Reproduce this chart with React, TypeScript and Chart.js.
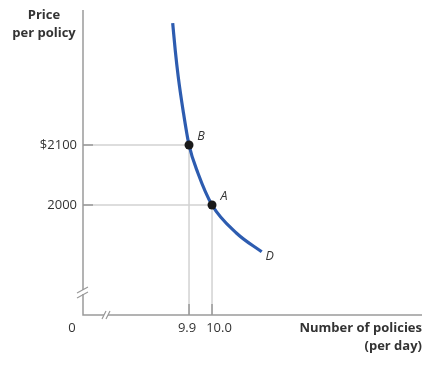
import React, { useEffect, useRef } from "react";
import { Chart, registerables } from "chart.js";

Chart.register(...registerables);

// ---- data ----
const demandQuantity = [9.829, 9.840, 9.853, 9.874, 9.9, 9.939, 10.0, 10.107, 10.216];
const demandPrice = [2303, 2258, 2214, 2158, 2100, 2053, 2000, 1953, 1922];
const pointNames = ["B", "A"];
const pointQuantity = [9.9, 10.0];
const pointPrice = [2100, 2000];
const curveName = "D";
const xTickValues = [9.9, 10.0];
const xTickLabels = ["9.9", "10.0"];
const yTickValues = [2100, 2000];
const yTickLabels = ["$2100", "2000"];
const originLabel = "0";
const xAxisTitle = ["Number of policies", "(per day)"];
const yAxisTitle = ["Price", "per policy"];
const xMin = 9.439;
const xMax = 10.913;
const yMin = 1816.7;
const yMax = 2325;

const TEXT = "#333333";
const AXIS = "#9a9a9a";
const GUIDE = "#d2d2d2";
const BLUE = "#2d5cb0";
const FONT = "'Open Sans', 'DejaVu Sans', sans-serif";

const decorPlugin = {
  id: "decor",
  beforeDatasetsDraw(chart: any) {
    const { ctx, chartArea, scales } = chart;
    const xs = scales.x;
    const ys = scales.y;
    const left = chartArea.left;
    const bottom = chartArea.bottom;
    ctx.save();
    // guide lines from axes to the points
    pointQuantity.forEach((q, i) => {
      const px = xs.getPixelForValue(q);
      const py = ys.getPixelForValue(pointPrice[i]);
      ctx.lineWidth = 1.5;
      ctx.strokeStyle = GUIDE;
      ctx.beginPath();
      ctx.moveTo(left, py);
      ctx.lineTo(px, py);
      ctx.moveTo(px, bottom);
      ctx.lineTo(px, py);
      ctx.stroke();
      ctx.strokeStyle = AXIS;
      ctx.beginPath();
      ctx.moveTo(left, py);
      ctx.lineTo(left + 10, py);
      ctx.moveTo(px, bottom);
      ctx.lineTo(px, bottom - 11);
      ctx.stroke();
    });
    // axes
    ctx.strokeStyle = AXIS;
    ctx.lineWidth = 1.5;
    ctx.beginPath();
    ctx.moveTo(left, chartArea.top);
    ctx.lineTo(left, bottom);
    ctx.lineTo(chartArea.right, bottom);
    ctx.stroke();
    // axis breaks
    const by = bottom - 23;
    ctx.fillStyle = "#ffffff";
    ctx.fillRect(left - 3, by - 2, 6, 4);
    ctx.lineWidth = 1.2;
    ctx.beginPath();
    ctx.moveTo(left - 6, by + 1);
    ctx.lineTo(left + 5, by - 5);
    ctx.moveTo(left - 6, by + 6);
    ctx.lineTo(left + 5, by);
    ctx.stroke();
    const bx = left + 23;
    ctx.fillRect(bx - 2, bottom - 3, 4, 6);
    ctx.beginPath();
    ctx.moveTo(bx - 4, bottom + 4);
    ctx.lineTo(bx, bottom - 4);
    ctx.moveTo(bx, bottom + 4);
    ctx.lineTo(bx + 4, bottom - 4);
    ctx.stroke();

    // tick labels
    ctx.fillStyle = TEXT;
    ctx.font = `13px ${FONT}`;
    ctx.textBaseline = "middle";
    ctx.textAlign = "right";
    yTickValues.forEach((v, i) => {
      ctx.fillText(yTickLabels[i], left - 6, ys.getPixelForValue(v));
    });
    ctx.textAlign = "center";
    const xOff = [-2, 7];
    xTickValues.forEach((v, i) => {
      ctx.fillText(xTickLabels[i], xs.getPixelForValue(v) + xOff[i], bottom + 13);
    });
    ctx.fillText(originLabel, left - 11, bottom + 13);

    // axis titles
    ctx.font = `bold 13px ${FONT}`;
    ctx.textAlign = "right";
    ctx.fillText(xAxisTitle[0], chartArea.right, bottom + 13);
    ctx.fillText(xAxisTitle[1], chartArea.right, bottom + 31);
    ctx.textAlign = "center";
    ctx.fillText(yAxisTitle[0], left - 39, 15);
    ctx.fillText(yAxisTitle[1], left - 39, 33);
    ctx.restore();
  },
  afterDatasetsDraw(chart: any) {
    const { ctx, scales } = chart;
    const xs = scales.x;
    const ys = scales.y;
    ctx.save();
    ctx.fillStyle = TEXT;
    ctx.font = `italic 12.5px ${FONT}`;
    ctx.textAlign = "center";
    ctx.textBaseline = "middle";
    pointNames.forEach((n, i) => {
      ctx.fillText(n, xs.getPixelForValue(pointQuantity[i]) + 12, ys.getPixelForValue(pointPrice[i]) - 9);
    });
    const last = demandQuantity.length - 1;
    ctx.fillText(curveName, xs.getPixelForValue(demandQuantity[last]) + 8, ys.getPixelForValue(demandPrice[last]) + 5);
    ctx.restore();
  },
};

export default function App() {
  const ref = useRef<HTMLCanvasElement>(null);
  useEffect(() => {
    if (!ref.current) return;
    const chart = new Chart(ref.current, {
      type: "scatter",
      data: {
        datasets: [
          {
            label: "points",
            data: pointQuantity.map((q, i) => ({ x: q, y: pointPrice[i] })),
            pointRadius: 4.5,
            pointBackgroundColor: "#1a1a1a",
            pointBorderWidth: 0,
            showLine: false,
          },
          {
            label: "demand",
            data: demandQuantity.map((q, i) => ({ x: q, y: demandPrice[i] })),
            showLine: true,
            borderColor: BLUE,
            borderWidth: 3.2,
            pointRadius: 0,
            cubicInterpolationMode: "monotone",
            borderCapStyle: "butt",
          },
        ],
      },
      options: {
        animation: false,
        responsive: false,
        layout: { padding: { left: 83, top: 10, right: 12, bottom: 51 } },
        plugins: { legend: { display: false }, tooltip: { enabled: false } },
        scales: {
          x: { type: "linear", min: xMin, max: xMax, display: false },
          y: { type: "linear", min: yMin, max: yMax, display: false },
        },
      },
      plugins: [decorPlugin],
    } as any);
    return () => chart.destroy();
  }, []);
  return (
    <div style={{ position: "fixed", left: 0, top: 0, width: 434, height: 366, background: "#fff" }}>
      <canvas ref={ref} width={434} height={366} style={{ width: 434, height: 366 }} />
    </div>
  );
}
